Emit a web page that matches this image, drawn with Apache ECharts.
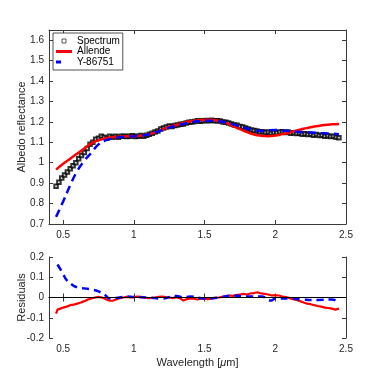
<!DOCTYPE html>
<html>
<head>
<meta charset="utf-8">
<script src="https://cdn.jsdelivr.net/npm/echarts@6/dist/echarts.min.js"></script>
<style>
  html, body { margin: 0; padding: 0; background: #fff; }
  #myChart { width: 382px; height: 382px; }
</style>
</head>
<body>
<div id="myChart"></div>
<script>
// spectrum (black squares)
var specWl = [0.45,0.47,0.49,0.51,0.53,0.55,0.57,0.59,0.61,0.63,0.65,0.67,0.69,0.71,0.73,0.75,0.77,0.79,0.81,0.83,
  0.85,0.87,0.89,0.91,0.93,0.95,0.97,0.99,1.01,1.03,1.05,1.07,1.09,1.11,1.13,1.15,1.17,1.19,1.21,1.23,
  1.25,1.27,1.29,1.31,1.33,1.35,1.37,1.39,1.41,1.43,1.45,1.47,1.49,1.51,1.53,1.55,1.57,1.59,1.61,1.63,
  1.65,1.67,1.69,1.71,1.73,1.75,1.77,1.79,1.81,1.83,1.85,1.87,1.89,1.91,1.93,1.95,1.97,1.99,2.01,2.03,
  2.05,2.07,2.09,2.11,2.13,2.15,2.17,2.19,2.21,2.23,2.25,2.27,2.29,2.31,2.33,2.35,2.37,2.39,2.41,2.43,2.45];
var specVal = [0.885,0.905,0.925,0.94,0.955,0.97,0.985,1.0,1.02,1.035,1.05,1.07,1.09,1.10,1.115,1.12,1.13,1.125,1.12,1.13,
  1.125,1.13,1.125,1.13,1.13,1.128,1.13,1.132,1.128,1.13,1.133,1.13,1.135,1.14,1.145,1.15,1.155,1.165,1.17,1.175,
  1.18,1.178,1.182,1.185,1.188,1.19,1.195,1.198,1.2,1.202,1.205,1.203,1.205,1.207,1.205,1.208,1.206,1.205,1.204,1.2,
  1.198,1.195,1.19,1.185,1.183,1.178,1.175,1.17,1.165,1.16,1.158,1.155,1.15,1.152,1.148,1.15,1.145,1.148,1.147,1.15,
  1.152,1.148,1.15,1.145,1.147,1.143,1.145,1.14,1.142,1.138,1.14,1.135,1.138,1.133,1.135,1.13,1.132,1.128,1.13,1.125,1.122];

// model fits
var modelWl = [0.45,0.5,0.55,0.6,0.65,0.7,0.75,0.8,0.85,0.9,0.95,1.0,1.05,1.1,1.15,1.2,1.25,1.3,1.35,1.4,
  1.45,1.5,1.55,1.6,1.65,1.7,1.75,1.8,1.85,1.9,1.95,2.0,2.05,2.1,2.15,2.2,2.25,2.3,2.35,2.4,2.45];
var allendeVal = [0.966,0.995,1.02,1.045,1.07,1.095,1.11,1.12,1.125,1.128,1.13,1.13,1.132,1.138,1.148,1.162,1.175,1.185,1.195,1.203,
  1.208,1.21,1.21,1.205,1.195,1.18,1.165,1.15,1.138,1.132,1.13,1.133,1.14,1.148,1.158,1.166,1.174,1.18,1.185,1.188,1.19];
var y86751Val = [0.735,0.81,0.89,0.96,1.01,1.05,1.09,1.11,1.12,1.125,1.128,1.13,1.132,1.138,1.148,1.16,1.172,1.182,1.19,1.197,
  1.203,1.205,1.206,1.203,1.197,1.188,1.178,1.168,1.16,1.155,1.158,1.16,1.158,1.155,1.152,1.15,1.148,1.146,1.144,1.142,1.14];

// residuals
var resRedWl = [0.45,0.46,0.48,0.5,0.525,0.55,0.575,0.6,0.625,0.65,0.675,0.7,0.725,0.75,0.775,0.8,0.825,0.85,0.875,0.9,
  0.925,0.95,0.975,1.0,1.025,1.05,1.075,1.1,1.125,1.15,1.175,1.2,1.225,1.25,1.275,1.3,1.325,1.35,1.375,1.4,
  1.425,1.45,1.475,1.5,1.525,1.55,1.575,1.6,1.625,1.65,1.675,1.7,1.725,1.75,1.775,1.8,1.825,1.85,1.875,1.9,
  1.925,1.95,1.975,2.0,2.025,2.05,2.075,2.1,2.125,2.15,2.175,2.2,2.225,2.25,2.275,2.3,2.325,2.35,2.375,2.4,2.425,2.45];
var resRedVal = [-0.08,-0.06,-0.055,-0.05,-0.045,-0.038,-0.035,-0.03,-0.025,-0.018,-0.01,-0.005,0.0,0.003,0.0,-0.008,-0.015,-0.016,-0.01,-0.003,
  0.0,0.003,0.0,0.002,0.005,0.003,0.0,-0.003,-0.002,0.0,0.003,0.005,0.002,0.0,-0.003,0.002,-0.003,-0.015,-0.008,-0.004,
  -0.006,-0.01,-0.005,-0.006,-0.008,-0.006,-0.002,0.0,0.003,0.006,0.01,0.008,0.012,0.015,0.018,0.015,0.02,0.022,0.026,0.02,
  0.018,0.015,0.01,0.012,0.01,0.005,0.002,-0.003,-0.008,-0.012,-0.018,-0.025,-0.03,-0.033,-0.038,-0.042,-0.045,-0.05,-0.052,-0.055,-0.06,-0.055];
var resBlueWl = [0.46,0.48,0.5,0.52,0.55,0.6,0.65,0.7,0.75,0.8,0.83,0.9,0.95,1.0,1.1,1.2,1.3,1.35,1.4,1.5,
  1.6,1.7,1.8,1.9,1.97,2.0,2.1,2.2,2.3,2.4,2.45];
var resBlueVal = [0.163,0.14,0.115,0.09,0.07,0.05,0.045,0.04,0.03,0.01,-0.005,0.0,0.005,0.002,0.0,-0.005,0.008,0.0,0.005,-0.005,
  0.0,0.01,0.005,0.005,-0.015,-0.005,-0.005,-0.01,-0.012,-0.01,-0.025];

// ticks
var xTicks = [0.5, 1, 1.5, 2, 2.5];
var yTopTicks = [0.7, 0.8, 0.9, 1.0, 1.1, 1.2, 1.3, 1.4, 1.5, 1.6];
var yBotTicks = [-0.2, -0.1, 0, 0.1, 0.2];

function pairs(xs, ys) {
  return xs.map(function (x, i) { return [x, ys[i]]; });
}
function fmt(v) { return String(Math.round(v * 100) / 100); }

var axisCol = '#3a3a3a';
var font = 'Liberation Sans, Arial, sans-serif';
var txt = { color: '#262626', fontSize: 10, fontFamily: font };

function xAxis(grid, pos, show, name) {
  return {
    type: 'value', gridIndex: grid, position: pos, min: 0.4, max: 2.5,
    axisLine: { show: true, lineStyle: { color: axisCol, width: 1 } },
    axisTick: { show: true, inside: true, length: 4, customValues: xTicks, lineStyle: { color: axisCol } },
    axisLabel: Object.assign({ show: show, margin: 6, customValues: xTicks, formatter: fmt }, txt),
    splitLine: { show: false },
    name: name || '', nameLocation: 'middle', nameGap: 19, nameMoveOverlap: false,
    nameTextStyle: { color: '#262626', fontSize: 11, fontFamily: font,
      rich: { i: { fontStyle: 'italic', fontSize: 11, color: '#262626', fontFamily: font } } }
  };
}
function yAxis(grid, pos, show, min, max, ticks, name) {
  return {
    type: 'value', gridIndex: grid, position: pos, min: min, max: max,
    axisLine: { show: true, lineStyle: { color: axisCol, width: 1 } },
    axisTick: { show: true, inside: true, length: 4, customValues: ticks, lineStyle: { color: axisCol } },
    axisLabel: Object.assign({ show: show, margin: 5, customValues: ticks, formatter: fmt }, txt),
    splitLine: { show: false },
    name: name || '', nameLocation: 'middle', nameGap: 22, nameMoveOverlap: false,
    nameTextStyle: { color: '#262626', fontSize: 11, fontFamily: font }
  };
}

var myChart = echarts.init(document.getElementById('myChart'));
var option = {
  animation: false,
  backgroundColor: '#fff',
  grid: [
    { left: 49, right: 36, top: 30, height: 194 },
    { left: 49, right: 36, top: 257, height: 81 }
  ],
  legend: {
    orient: 'vertical', left: 53, top: 33,
    padding: [3, 3, 3, 3], itemGap: 0.5, itemWidth: 16, itemHeight: 4,
    borderColor: '#262626', borderWidth: 0.8, backgroundColor: '#fff',
    textStyle: { color: '#000', fontSize: 10, lineHeight: 10, fontFamily: font },
    data: [
      { name: 'Spectrum', icon: 'path://M0,0h10v10h-10z', itemStyle: { color: '#fff', borderColor: '#000', borderWidth: 0.8 } },
      { name: 'Allende', icon: 'path://M0,0h16v3h-16z', itemStyle: { color: '#ff0000' } },
      { name: 'Y-86751', icon: 'path://M0,0h5v3h-5z M16,3', itemStyle: { color: '#0000ff' } }
    ]
  },
  xAxis: [
    xAxis(0, 'bottom', true),
    xAxis(0, 'top', false),
    xAxis(1, 'bottom', true, 'Wavelength [{i|μ}m]'),
    xAxis(1, 'top', false)
  ],
  yAxis: [
    yAxis(0, 'left', true, 0.7, 1.65, yTopTicks, 'Albedo reflectance'),
    yAxis(0, 'right', false, 0.7, 1.65, yTopTicks),
    yAxis(1, 'left', true, -0.2, 0.2, yBotTicks, 'Residuals'),
    yAxis(1, 'right', false, -0.2, 0.2, yBotTicks)
  ],
  series: [
    {
      name: 'Spectrum', type: 'scatter', xAxisIndex: 0, yAxisIndex: 0,
      symbol: 'emptyRect', symbolSize: 3.5,
      itemStyle: { color: '#000', borderWidth: 1 },
      data: pairs(specWl, specVal)
    },
    {
      name: 'Allende', type: 'line', xAxisIndex: 0, yAxisIndex: 0,
      symbol: 'none', smooth: true, color: '#ff0000',
      lineStyle: { color: '#ff0000', width: 2.5 },
      data: pairs(modelWl, allendeVal)
    },
    {
      name: 'Y-86751', type: 'line', xAxisIndex: 0, yAxisIndex: 0,
      symbol: 'none', smooth: true, color: '#0000ff',
      lineStyle: { color: '#0000ff', width: 2.5, type: [8, 5] },
      data: pairs(modelWl, y86751Val)
    },
    {
      name: 'resAllende', type: 'line', xAxisIndex: 2, yAxisIndex: 2,
      symbol: 'none', lineStyle: { color: '#ff0000', width: 2.2 },
      data: pairs(resRedWl, resRedVal),
      markLine: {
        silent: true, symbol: 'none', label: { show: false },
        lineStyle: { color: '#000', width: 1, type: 'solid' },
        data: [{ yAxis: 0 }]
      }
    },
    {
      name: 'resY86751', type: 'line', xAxisIndex: 2, yAxisIndex: 2,
      symbol: 'none', smooth: true, lineStyle: { color: '#0000ff', width: 2.5, type: [7, 5] },
      data: pairs(resBlueWl, resBlueVal)
    }
  ]
};
myChart.setOption(option);
</script>
</body>
</html>
